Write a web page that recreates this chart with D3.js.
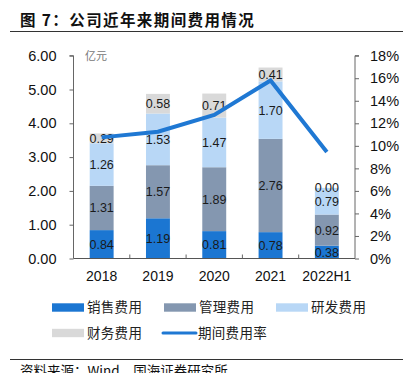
<!DOCTYPE html>
<html><head><meta charset="utf-8">
<script src="https://cdn.jsdelivr.net/npm/d3@7"></script>
<style>
html,body{margin:0;padding:0;background:#fff;}
svg{display:block;}
</style></head>
<body>
<script>
const categories = ["2018","2019","2020","2021","2022H1"];
const sales = [0.84,1.19,0.81,0.78,0.38];
const admin = [1.31,1.57,1.89,2.76,0.92];
const rnd = [1.26,1.53,1.47,1.70,0.79];
const finance = [0.29,0.58,0.71,0.41,0.00];
const rate = [10.75,11.25,12.75,15.8,9.45];
const leftTicks = [0,1,2,3,4,5,6];
const rightTicks = [0,2,4,6,8,10,12,14,16,18];
const seriesNames = ["销售费用","管理费用","研发费用","财务费用"];
const lineName = "期间费用率";
const colors = ["#1b76d2","#8497b0","#b8d7f6","#d9d9d9"];
const lineColor = "#1f78d3";

const W=403,H=373;
const svg=d3.select("body").append("svg").attr("width",W).attr("height",H);
const font="'Liberation Sans', Arial, sans-serif";
const cjk="'Noto Sans CJK SC', sans-serif";

// title
svg.append("text").attr("x",20).attr("y",26).attr("font-family",cjk).attr("font-weight","bold")
  .attr("font-size",15.5).attr("letter-spacing",1.4).attr("fill","#111").text("图 7：公司近年来期间费用情况");
svg.append("line").attr("x1",10).attr("x2",403).attr("y1",31.5).attr("y2",31.5).attr("stroke","#333").attr("stroke-width",1);

const L=73.5,R=355,T=55.7,B=258.5;
const x=d3.scaleBand().domain(categories).range([L,R]).paddingInner(0.575).paddingOuter(0.2875);
const y=d3.scaleLinear().domain([0,6]).range([B,T]);
const y2=d3.scaleLinear().domain([0,18]).range([B,T]);

// stacked bars
const data=categories.map((c,i)=>({cat:c,s0:sales[i],s1:admin[i],s2:rnd[i],s3:finance[i]}));
const stack=d3.stack().keys(["s0","s1","s2","s3"])(data);
stack.forEach((layer,k)=>{
  svg.append("g").selectAll("rect").data(layer).join("rect")
    .attr("x",d=>x(d.data.cat)).attr("width",x.bandwidth())
    .attr("y",d=>y(d[1])).attr("height",d=>y(d[0])-y(d[1]))
    .attr("fill",colors[k]);
});
// labels
stack.forEach((layer,k)=>{
  svg.append("g").selectAll("text").data(layer).join("text")
    .attr("x",d=>x(d.data.cat)+x.bandwidth()/2)
    .attr("y",d=>(y(d[0])+y(d[1]))/2)
    .attr("dy","0.36em").attr("text-anchor","middle")
    .attr("font-family",font).attr("font-size",12.5).attr("fill","#1a1a1a")
    .text(d=>(d[1]-d[0]).toFixed(2));
});

// line
const line=d3.line().x((d,i)=>x(categories[i])+x.bandwidth()/2).y(d=>y2(d));
svg.append("path").datum(rate).attr("d",line).attr("fill","none").attr("stroke",lineColor)
  .attr("stroke-width",4).attr("stroke-linejoin","miter");

// axes
const axL=svg.append("g").attr("transform",`translate(${L},0)`)
  .call(d3.axisLeft(y).tickValues(leftTicks).tickFormat(d3.format(".2f")).tickSize(4).tickPadding(13));
const axR=svg.append("g").attr("transform",`translate(${R},0)`)
  .call(d3.axisRight(y2).tickValues(rightTicks).tickFormat(d=>d+"%").tickSize(4).tickPadding(11));
[axL,axR].forEach(a=>{
  a.selectAll("path").attr("stroke","#666").attr("d",null);
  a.selectAll("line").attr("stroke","#666");
  a.selectAll("text").attr("font-family",font).attr("font-size",14.5).attr("fill","#111");
});
axL.select("path").attr("d",`M-4,${T}H0V${B}`);
axR.select("path").attr("d",`M4,${T}H0V${B}`);

// bottom axis
svg.append("line").attr("x1",L).attr("x2",R).attr("y1",B).attr("y2",B).attr("stroke","#555");
const step=x.step(), gap=step-x.bandwidth();
categories.slice(1).forEach(c=>{
  const bx=x(c)-gap/2;
  svg.append("line").attr("x1",bx).attr("x2",bx).attr("y1",B).attr("y2",B-4).attr("stroke","#666");
});
svg.append("g").selectAll("text").data(categories).join("text")
  .attr("x",d=>x(d)+x.bandwidth()/2).attr("y",281).attr("text-anchor","middle")
  .attr("font-family",font).attr("font-size",14).attr("fill","#111").text(d=>d);

// unit
svg.append("text").attr("x",85).attr("y",60).attr("font-family",cjk).attr("font-size",11)
  .attr("fill","#777").text("亿元");

// legend
const legItems=[
  {name:seriesNames[0],type:"rect",color:colors[0],x:52,y:307.5},
  {name:seriesNames[1],type:"rect",color:colors[1],x:164,y:307.5},
  {name:seriesNames[2],type:"rect",color:colors[2],x:276,y:307.5},
  {name:seriesNames[3],type:"rect",color:colors[3],x:52,y:333},
  {name:lineName,type:"line",color:lineColor,x:163,y:333}
];
legItems.forEach(it=>{
  if(it.type==="rect"){
    svg.append("rect").attr("x",it.x).attr("y",it.y-4.2).attr("width",32).attr("height",8.4).attr("fill",it.color);
  } else {
    svg.append("line").attr("x1",it.x).attr("x2",it.x+33).attr("y1",it.y).attr("y2",it.y)
      .attr("stroke",it.color).attr("stroke-width",3).attr("stroke-linecap","round");
  }
  svg.append("text").attr("x",it.x+35).attr("y",it.y).attr("dy","0.36em")
    .attr("font-family",cjk).attr("font-size",13.5).attr("letter-spacing",0.3).attr("fill","#222").text(it.name);
});

// source
svg.append("line").attr("x1",10).attr("x2",403).attr("y1",359.5).attr("y2",359.5).attr("stroke","#333");
svg.append("text").attr("x",20).attr("y",376).attr("font-family",cjk).attr("font-size",13.5)
  .attr("fill","#111").text("资料来源：Wind，国海证券研究所");
</script>
</body></html>
